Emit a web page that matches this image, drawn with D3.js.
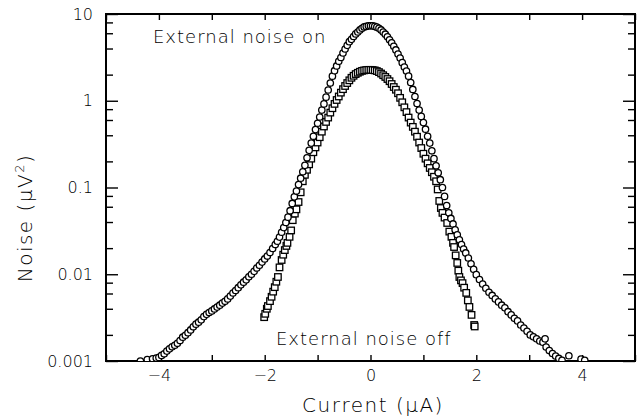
<!DOCTYPE html>
<html>
<head>
<meta charset="utf-8">
<script src="https://cdn.jsdelivr.net/npm/d3@7"></script>
<style>
    body { margin: 0; background: #fff; }
    text { font-family: "DejaVu Sans", sans-serif; font-weight: 300; fill: #000; }
</style>
</head>
<body>
<div id="chart"></div>
<script>
// Données : bruit avec source externe (cercles)
var onCurrent = [-4.35, -4.22, -4.12, -4.05, -4.00, -3.95, -3.90, -3.85, -3.80, -3.75, -3.70, -3.65, -3.60, -3.55, -3.50, -3.45, -3.40, -3.35, -3.30, -3.25,
    -3.20, -3.15, -3.10, -3.05, -3.00, -2.95, -2.90, -2.85, -2.80, -2.75, -2.70, -2.65, -2.60, -2.55, -2.50, -2.45, -2.40, -2.35, -2.30, -2.25,
    -2.20, -2.15, -2.10, -2.05, -2.00, -1.95, -1.90, -1.85, -1.80, -1.76, -1.72, -1.68, -1.64, -1.60, -1.56, -1.52, -1.48, -1.44, -1.40, -1.36,
    -1.32, -1.28, -1.24, -1.20, -1.16, -1.12, -1.08, -1.04, -1.00, -0.96, -0.92, -0.88, -0.84, -0.80, -0.76, -0.72, -0.68, -0.64, -0.60, -0.56,
    -0.52, -0.48, -0.44, -0.40, -0.36, -0.32, -0.28, -0.24, -0.20, -0.16, -0.12, -0.08, -0.04, 0.00, 0.04, 0.08, 0.12, 0.16, 0.20, 0.24,
    0.28, 0.32, 0.36, 0.40, 0.44, 0.48, 0.52, 0.56, 0.60, 0.64, 0.68, 0.72, 0.76, 0.80, 0.84, 0.88, 0.92, 0.96, 1.00, 1.04,
    1.08, 1.12, 1.16, 1.20, 1.24, 1.28, 1.32, 1.36, 1.40, 1.44, 1.48, 1.52, 1.56, 1.60, 1.64, 1.68, 1.72, 1.76, 1.80, 1.85,
    1.90, 1.95, 2.00, 2.06, 2.12, 2.18, 2.24, 2.30, 2.36, 2.42, 2.48, 2.54, 2.60, 2.66, 2.72, 2.78, 2.84, 2.90, 2.96, 3.02,
    3.08, 3.14, 3.20, 3.26, 3.30, 3.32, 3.38, 3.44, 3.50, 3.56, 3.62, 3.75, 3.98, 4.05];
var onNoise = [0.00100, 0.00104, 0.00106, 0.00108, 0.00110, 0.00116, 0.00121, 0.00130, 0.00138, 0.00146, 0.00152, 0.00160, 0.00172, 0.00188, 0.00198, 0.00212, 0.00228, 0.00248, 0.00266, 0.00280,
    0.00298, 0.00325, 0.00345, 0.00362, 0.00378, 0.00398, 0.00418, 0.00440, 0.00465, 0.00488, 0.00520, 0.00560, 0.00608, 0.00650, 0.00700, 0.00755, 0.00810, 0.00862, 0.00935, 0.0100,
    0.0108, 0.0118, 0.0127, 0.0138, 0.0150, 0.0162, 0.0178, 0.0198, 0.0220, 0.0240, 0.0268, 0.0305, 0.0345, 0.0395, 0.0455, 0.0540, 0.0655, 0.0780, 0.0910, 0.108,
    0.128, 0.152, 0.180, 0.220, 0.268, 0.325, 0.390, 0.465, 0.550, 0.650, 0.780, 0.920, 1.10, 1.33, 1.60, 1.92, 2.22, 2.52, 2.85, 3.15,
    3.55, 3.95, 4.35, 4.80, 5.10, 5.50, 5.90, 6.20, 6.55, 6.85, 7.10, 7.20, 7.30, 7.30, 7.30, 7.20, 7.05, 6.85, 6.55, 6.20,
    5.85, 5.45, 5.05, 4.65, 4.25, 3.85, 3.45, 3.10, 2.75, 2.45, 2.20, 1.92, 1.62, 1.35, 1.12, 0.930, 0.780, 0.660, 0.560, 0.470,
    0.390, 0.325, 0.265, 0.215, 0.178, 0.148, 0.123, 0.100, 0.079, 0.062, 0.051, 0.044, 0.038, 0.0325, 0.0285, 0.0250, 0.0220, 0.0195, 0.0176, 0.0154,
    0.0132, 0.0114, 0.0099, 0.0087, 0.0077, 0.0069, 0.0062, 0.0057, 0.0052, 0.0048, 0.0044, 0.0041, 0.0037, 0.0034, 0.0031, 0.0029, 0.0026, 0.0024, 0.0022, 0.0020,
    0.0019, 0.0018, 0.0017, 0.00165, 0.00180, 0.00145, 0.00132, 0.00122, 0.00114, 0.00107, 0.00102, 0.00115, 0.00105, 0.00102];

// Données sans source externe (carrés)
var offCurrent = [-2.01, -1.99, -1.96, -1.94, -1.90, -1.87, -1.84, -1.81, -1.78, -1.75, -1.72, -1.68, -1.65, -1.62, -1.59, -1.57, -1.53, -1.50, -1.47, -1.43,
    -1.40, -1.36, -1.32, -1.28, -1.24, -1.20, -1.16, -1.12, -1.08, -1.04, -1.00, -0.96, -0.92, -0.88, -0.84, -0.80, -0.76, -0.72, -0.68, -0.64,
    -0.60, -0.56, -0.52, -0.48, -0.44, -0.40, -0.36, -0.32, -0.28, -0.24, -0.20, -0.16, -0.12, -0.08, -0.04, 0.00, 0.04, 0.08, 0.12, 0.16,
    0.20, 0.24, 0.28, 0.32, 0.36, 0.40, 0.44, 0.48, 0.52, 0.56, 0.60, 0.64, 0.68, 0.72, 0.76, 0.80, 0.84, 0.88, 0.92, 0.96,
    1.00, 1.04, 1.08, 1.12, 1.16, 1.20, 1.24, 1.27, 1.30, 1.33, 1.36, 1.40, 1.45, 1.49, 1.53, 1.56, 1.58, 1.61, 1.64, 1.66,
    1.68, 1.71, 1.74, 1.77, 1.81, 1.84, 1.87, 1.91, 1.96, 1.97];
var offNoise = [0.0032, 0.0035, 0.0040, 0.0043, 0.0049, 0.0055, 0.0063, 0.0071, 0.0082, 0.0093, 0.0120, 0.0146, 0.0168, 0.0190, 0.0212, 0.0230, 0.0270, 0.0320, 0.0420, 0.0500,
    0.0560, 0.0680, 0.0880, 0.118, 0.140, 0.160, 0.185, 0.215, 0.255, 0.290, 0.330, 0.380, 0.440, 0.505, 0.570, 0.640, 0.730, 0.820, 0.920, 1.02,
    1.12, 1.24, 1.36, 1.48, 1.60, 1.72, 1.84, 1.94, 2.03, 2.10, 2.16, 2.21, 2.24, 2.26, 2.27, 2.27, 2.26, 2.24, 2.20, 2.14,
    2.06, 1.97, 1.88, 1.78, 1.68, 1.56, 1.44, 1.34, 1.22, 1.08, 0.96, 0.84, 0.74, 0.64, 0.56, 0.50, 0.44, 0.385, 0.330, 0.285,
    0.245, 0.215, 0.190, 0.168, 0.150, 0.133, 0.118, 0.095, 0.070, 0.058, 0.051, 0.045, 0.039, 0.031, 0.027, 0.023, 0.0206, 0.0165, 0.0135, 0.0110,
    0.0093, 0.0085, 0.0079, 0.0070, 0.0061, 0.0050, 0.0042, 0.0034, 0.0026, 0.0025];

// Graduations
var xMajorTicks = [-5, -4, -3, -2, -1, 0, 1, 2, 3, 4, 5];
var xLabelTicks = [-4, -2, 0, 2, 4];
var yMajorTicks = [0.001, 0.01, 0.1, 1, 10];
var yTickLabels = ["0.001", "0.01", "0.1", "1", "10"];
var yMinorMultiples = [2, 4, 6, 8];

var margin = { top: 14, right: 2, bottom: 58, left: 106 },
    width = 637 - margin.left - margin.right,
    height = 419 - margin.top - margin.bottom;

var x = d3.scaleLinear().domain([-5, 5]).range([0, width]);
var y = d3.scaleLog().domain([0.001, 10]).range([height, 0]);

var svg = d3.select("#chart").append("svg")
    .attr("width", 637)
    .attr("height", 419)
    .append("g")
    .attr("transform", "translate(" + margin.left + "," + margin.top + ")");

// petites graduations en y
var yMinor = [];
yMajorTicks.slice(0, 4).forEach(function (d) {
    yMinorMultiples.forEach(function (m) { yMinor.push(d * m); });
});

function styleAxis(g) {
    g.select(".domain").remove();
    g.selectAll(".tick line").attr("stroke", "#000").attr("stroke-width", 1.4);
    g.selectAll(".tick text").style("font-size", "16px").attr("fill", "#000");
}

// axe du bas
svg.append("g")
    .attr("transform", "translate(0," + height + ")")
    .call(d3.axisBottom(x).tickValues(xMajorTicks).tickSizeInner(-6).tickSizeOuter(0).tickPadding(9)
        .tickFormat(function (d) {
            if (xLabelTicks.indexOf(d) === -1) return "";
            return d < 0 ? "\u2212" + (-d) : String(d);
        }))
    .call(styleAxis);

// axe du haut
svg.append("g")
    .call(d3.axisTop(x).tickValues(xMajorTicks).tickSizeInner(-6).tickSizeOuter(0).tickFormat(""))
    .call(styleAxis);

// axe gauche (grandes et petites graduations)
svg.append("g")
    .call(d3.axisLeft(y).tickValues(yMajorTicks).tickSizeInner(-12).tickSizeOuter(0).tickPadding(13)
        .tickFormat(function (d, i) { return yTickLabels[i]; }))
    .call(styleAxis);
svg.append("g")
    .call(d3.axisLeft(y).tickValues(yMinor).tickSizeInner(-7).tickSizeOuter(0).tickFormat(""))
    .call(styleAxis);

// axe droit
svg.append("g")
    .attr("transform", "translate(" + width + ",0)")
    .call(d3.axisRight(y).tickValues(yMajorTicks).tickSizeInner(-12).tickSizeOuter(0).tickFormat(""))
    .call(styleAxis);
svg.append("g")
    .attr("transform", "translate(" + width + ",0)")
    .call(d3.axisRight(y).tickValues(yMinor).tickSizeInner(-7).tickSizeOuter(0).tickFormat(""))
    .call(styleAxis);

// cadre
svg.append("rect")
    .attr("width", width)
    .attr("height", height)
    .attr("fill", "none")
    .attr("stroke", "#000")
    .attr("stroke-width", 2);

svg.append("clipPath").attr("id", "clip")
    .append("rect").attr("width", width).attr("height", height);

var plot = svg.append("g").attr("clip-path", "url(#clip)");

var offData = offCurrent.map(function (c, i) { return { c: c, v: offNoise[i] }; });
var onData = onCurrent.map(function (c, i) { return { c: c, v: onNoise[i] }; });

// carrés
plot.selectAll(".sq")
    .data(offData)
    .enter().append("rect")
    .attr("class", "sq")
    .attr("x", function (d) { return x(d.c) - 3.25; })
    .attr("y", function (d) { return y(d.v) - 3.25; })
    .attr("width", 6.5)
    .attr("height", 6.5)
    .attr("fill", "#fff")
    .attr("stroke", "#000")
    .attr("stroke-width", 1.3);

// cercles
plot.selectAll(".ci")
    .data(onData)
    .enter().append("circle")
    .attr("class", "ci")
    .attr("cx", function (d) { return x(d.c); })
    .attr("cy", function (d) { return y(d.v); })
    .attr("r", 3.2)
    .attr("fill", "#fff")
    .attr("stroke", "#000")
    .attr("stroke-width", 1.3);

// annotations
var root = d3.select("#chart svg");

root.append("text")
    .attr("x", 153)
    .attr("y", 43)
    .style("font-size", "18px")
    .style("letter-spacing", "1px")
    .text("External noise on");

root.append("text")
    .attr("x", 276)
    .attr("y", 345)
    .style("font-size", "18px")
    .style("letter-spacing", "1px")
    .text("External noise off");

// titres des axes
root.append("text")
    .attr("x", 373)
    .attr("y", 412)
    .attr("text-anchor", "middle")
    .style("font-size", "20px")
    .style("letter-spacing", "1.5px")
    .text("Current (\u03bcA)");

var yl = root.append("text")
    .attr("transform", "translate(32,218) rotate(-90)")
    .attr("text-anchor", "middle")
    .style("font-size", "20px")
    .style("letter-spacing", "1.5px");
yl.append("tspan").text("Noise (\u03bcV");
yl.append("tspan").attr("dy", -8).style("font-size", "13px").text("2");
yl.append("tspan").attr("dy", 8).text(")");
</script>
</body>
</html>
